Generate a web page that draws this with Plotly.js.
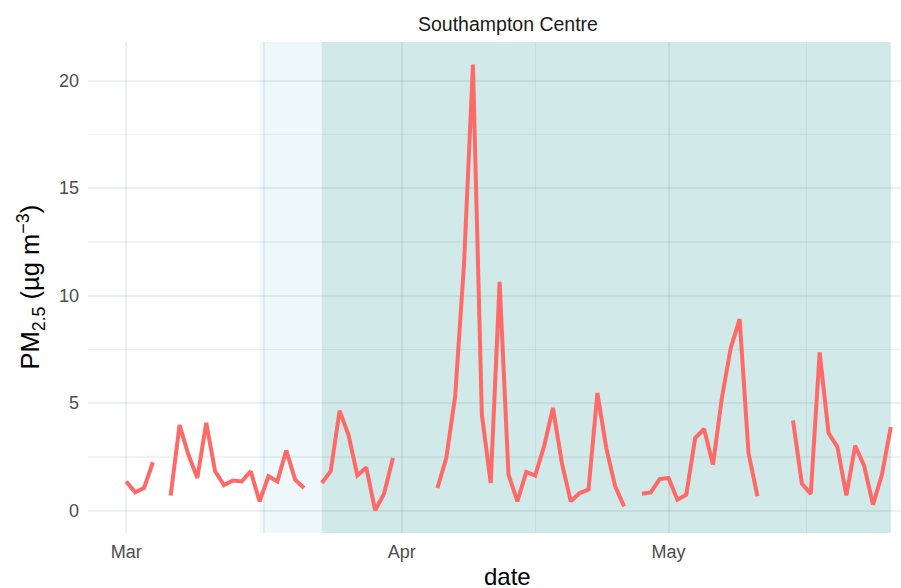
<!DOCTYPE html>
<html>
<head>
<meta charset="utf-8">
<script src="https://cdn.plot.ly/plotly-3.0.1.min.js"></script>
<style>html,body{margin:0;padding:0;background:#fff;}#chart{width:901px;height:588px;}</style>
</head>
<body>
<div id="chart"></div>
<script>
// Daily PM2.5 at Southampton Centre, starting 2020-03-01 (null = missing day)
const startDate = '2020-03-01';
const pm25 = [
  1.36, 0.85, 1.05, 2.25, null, 0.70, 3.98, 2.60, 1.52, 4.08,
  1.83, 1.19, 1.40, 1.36, 1.83, 0.43, 1.60, 1.36, 2.80, 1.44,
  1.05, null, 1.29, 1.83, 4.65, 3.53, 1.64, 2.01, 0.01, 0.79,
  2.45, null, null, null, null, 1.05, 2.45, 5.32, 11.5, 20.75,
  4.47, 1.29, 10.64, 1.67, 0.43, 1.80, 1.63, 2.99, 4.78, 2.22,
  0.43, 0.82, 0.98, 5.47, 2.91, 1.13, 0.20, null, 0.79, 0.85,
  1.47, 1.52, 0.51, 0.74, 3.38, 3.80, 2.14, 5.24, 7.57, 8.91,
  2.68, 0.67, null, null, null, 4.20, 1.26, 0.78, 7.36, 3.61,
  2.96, 0.71, 3.02, 2.09, 0.28, 1.67, 3.89
];
const periodStarts = ['2020-03-16', '2020-03-23'];
const periodEnds   = ['2020-03-23', '2020-05-26'];
const periodFills  = ['rgba(170,215,225,0.2)', 'rgba(0,128,128,0.175)'];
const xTickVals = ['2020-03-01', '2020-04-01', '2020-05-01'];
const xTickText = ['Mar', 'Apr', 'May'];
const xMinorVals = ['2020-03-16 12:00', '2020-04-16', '2020-05-16 12:00'];
const yTickVals = [0, 5, 10, 15, 20];
const yMinorVals = [2.5, 7.5, 12.5, 17.5];

function dayString(i) {
  const d = new Date(startDate + 'T00:00:00Z');
  d.setUTCDate(d.getUTCDate() + i);
  return d.toISOString().slice(0, 10);
}
const dates = pm25.map((_, i) => dayString(i));

const FONT = 'Liberation Sans, Arial, sans-serif';
const GRID = 'rgba(0,40,40,0.07)';
const GRID_MINOR = 'rgba(0,40,40,0.055)';

const shapes = periodStarts.map((s, i) => ({
  type: 'rect', xref: 'x', yref: 'paper',
  x0: s, x1: periodEnds[i], y0: 0, y1: 1,
  fillcolor: periodFills[i], line: {width: 0}, layer: 'below'
}));

const trace = {
  x: dates, y: pm25, type: 'scatter', mode: 'lines',
  connectgaps: false,
  line: {color: '#fd6a68', width: 4},
  hoverinfo: 'skip'
};

const layout = {
  width: 901, height: 588,
  margin: {l: 88, r: 0, t: 42, b: 55},
  paper_bgcolor: '#ffffff', plot_bgcolor: '#ffffff',
  font: {family: FONT, color: '#4d4d4d', size: 18},
  showlegend: false,
  xaxis: {
    type: 'date',
    range: ['2020-02-25 16:48', '2020-05-27 03:36'],
    tickmode: 'array', tickvals: xTickVals, ticktext: xTickText,
    ticks: '', ticklabelstandoff: 6,
    showgrid: true, gridcolor: GRID, gridwidth: 2,
    zeroline: false, showline: false,
    tickfont: {family: FONT, size: 18, color: '#4d4d4d'},
    minor: {tickmode: 'array', tickvals: xMinorVals, showgrid: true, gridcolor: GRID_MINOR, gridwidth: 1.2}
  },
  yaxis: {
    range: [-1.04, 21.8],
    tickmode: 'array', tickvals: yTickVals,
    ticks: '', ticklabelstandoff: 8,
    showgrid: true, gridcolor: GRID, gridwidth: 2,
    zeroline: false, showline: false,
    tickfont: {family: FONT, size: 18, color: '#4d4d4d'},
    minor: {tickmode: 'array', tickvals: yMinorVals, showgrid: true, gridcolor: GRID_MINOR, gridwidth: 1.2}
  },
  shapes: shapes,
  annotations: [
    {text: 'Southampton Centre', xref: 'paper', yref: 'paper', x: 0.5166, y: 1.037,
     xanchor: 'center', yanchor: 'middle', showarrow: false,
     font: {family: FONT, size: 19.5, color: '#1a1a1a'}},
    {text: 'date', xref: 'paper', yref: 'paper', x: 0.5166, y: -0.088,
     xanchor: 'center', yanchor: 'middle', showarrow: false,
     font: {family: FONT, size: 24, color: '#000000'}},
    {text: 'PM<sub>2.5</sub> (µg m<sup>−3</sup>)', xref: 'paper', yref: 'paper',
     x: -0.0713, y: 0.5, textangle: -90,
     xanchor: 'center', yanchor: 'middle', showarrow: false,
     font: {family: FONT, size: 25.5, color: '#000000'}}
  ]
};

Plotly.newPlot('chart', [trace], layout, {displayModeBar: false, staticPlot: true});
</script>
</body>
</html>
